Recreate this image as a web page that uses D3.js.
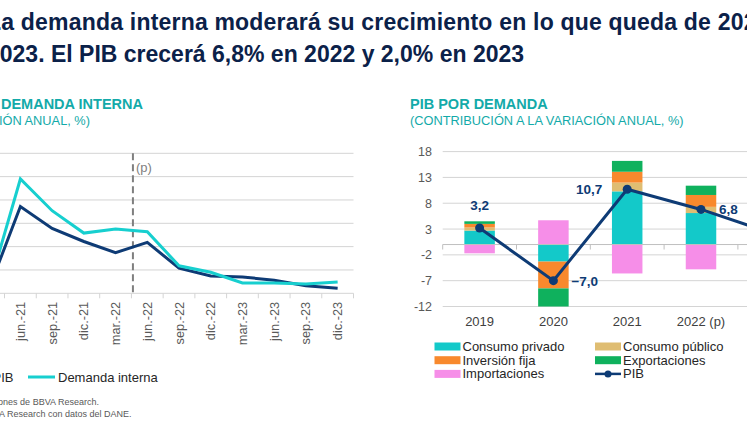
<!DOCTYPE html>
<html>
<head>
<meta charset="utf-8">
<script src="https://cdn.jsdelivr.net/npm/d3@7"></script>
<style>
  body { margin: 0; background: #fff; }
  svg { display: block; font-family: "Liberation Sans", Arial, sans-serif; }
</style>
</head>
<body>
<div id="chart"></div>
<script>
/******************** DATA ********************/
// left panel: quarterly annual variation (%)
var quarters = ["mar.-21", "jun.-21", "sep.-21", "dic.-21", "mar.-22", "jun.-22",
                "sep.-22", "dic.-22", "mar.-23", "jun.-23", "sep.-23", "dic.-23"];
var pibQ     = [0.8, 18.6, 13.9, 11.1, 8.7, 10.9, 5.4, 3.7, 3.5, 2.8, 1.6, 1.1];
var demandaQ = [1.0, 24.5, 17.7, 12.9, 13.8, 13.2, 5.9, 4.5, 2.2, 2.2, 2.0, 2.4];
var leftTicks = [0, 5, 10, 15, 20, 25, 30];
var forecastFrom = "jun.-22";

// right panel: contributions to annual variation (pp)
var years = ["2019", "2020", "2021", "2022 (p)", "2023 (p)"];
var consumoPrivado = [2.7, -3.3, 10.3, 6.1, 1.5];
var consumoPublico = [0.6, 0.0, 1.7, 1.2, 0.3];
var inversionFija  = [0.7, -5.2, 2.1, 2.3, 0.4];
var exportaciones  = [0.5, -3.5, 2.1, 1.8, 0.6];
var importaciones  = [-1.7, 4.7, -5.6, -4.8, -0.8];
var pibAnual       = [3.2, -7.0, 10.7, 6.8, 2.0];
var rightTicks = [-12, -7, -2, 3, 8, 13, 18];

var seriesNames = ["Consumo privado", "Consumo público", "Inversión fija", "Exportaciones", "Importaciones"];

/******************** STYLE ********************/
var navy = "#0e3b75",
    teal = "#17cfcf",
    grid = "#d4d4d4",
    axisTxt = "#595959",
    titleCol = "#0b2149",
    subCol = "#13aaa9";
var seriesColors = ["#13c9c9", "#dfbd72", "#f8892d", "#0fb15d", "#f68ee8"];

var width = 747, height = 427;

var svg = d3.select("#chart").append("svg")
    .attr("width", width)
    .attr("height", height);

// title (the slide is cropped, so text runs off both sides)
var title = svg.append("g")
    .attr("font-weight", "bold")
    .attr("font-size", 23)
    .attr("fill", titleCol);
title.append("text").attr("x", -13).attr("y", 30)
    .attr("letter-spacing", 0.2)
    .text("La demanda interna moderará su crecimiento en lo que queda de 2022 y");
title.append("text").attr("x", -13).attr("y", 62)
    .text("2023. El PIB crecerá 6,8% en 2022 y 2,0% en 2023");

// panel headings
svg.append("text").attr("x", 143).attr("y", 109).attr("text-anchor", "end")
    .attr("font-size", 14.5).attr("font-weight", "bold").attr("fill", subCol)
    .text("PIB Y DEMANDA INTERNA");
svg.append("text").attr("x", 90).attr("y", 124.5).attr("text-anchor", "end")
    .attr("font-size", 12.8).attr("fill", subCol)
    .text("(VARIACIÓN ANUAL, %)");
svg.append("text").attr("x", 410).attr("y", 109)
    .attr("font-size", 14.5).attr("font-weight", "bold").attr("fill", subCol)
    .text("PIB POR DEMANDA");
svg.append("text").attr("x", 410).attr("y", 124.5)
    .attr("font-size", 12.8).attr("fill", subCol)
    .text("(CONTRIBUCIÓN A LA VARIACIÓN ANUAL, %)");

/******************** LEFT PANEL ********************/
var xL = d3.scaleBand().domain(quarters).range([-27.2, 353.5]),
    yL = d3.scaleLinear().domain([0, 30]).range([293.3, 153.3]);
var bwL = xL.bandwidth();

var left = svg.append("g");

// gridlines
left.selectAll("line.grid").data(leftTicks).enter().append("line")
    .attr("x1", -40).attr("x2", xL.range()[1])
    .attr("y1", function(d){ return yL(d); })
    .attr("y2", function(d){ return yL(d); })
    .attr("stroke", grid).attr("stroke-width", 1);

// tick marks between quarters
left.selectAll("line.tick").data(quarters.concat(["end"])).enter().append("line")
    .attr("x1", function(d, i){ return xL.range()[0] + i * bwL; })
    .attr("x2", function(d, i){ return xL.range()[0] + i * bwL; })
    .attr("y1", yL(0)).attr("y2", yL(0) + 5)
    .attr("stroke", grid);

// rotated quarter labels
left.selectAll("text.q").data(quarters).enter().append("text")
    .attr("transform", function(d){ return "translate(" + (xL(d) + bwL / 2 + 4.5) + "," + (yL(0) + 8.5) + ") rotate(-90)"; })
    .attr("text-anchor", "end")
    .attr("font-size", 12.8).attr("fill", axisTxt)
    .text(function(d){ return d; });

// forecast marker
var xF = xL(forecastFrom) + 1.5;
left.append("line")
    .attr("x1", xF).attr("x2", xF)
    .attr("y1", yL(30)).attr("y2", yL(0))
    .attr("stroke", "#7f7f7f").attr("stroke-width", 2)
    .attr("stroke-dasharray", "7,4");
left.append("text").attr("x", xF + 3).attr("y", 172)
    .attr("font-size", 13).attr("fill", "#7f7f7f").text("(p)");

var lineL = d3.line()
    .x(function(d, i){ return xL(quarters[i]) + bwL / 2; })
    .y(function(d){ return yL(d); });

left.append("path").datum(pibQ)
    .attr("d", lineL).attr("fill", "none")
    .attr("stroke", navy).attr("stroke-width", 3);
left.append("path").datum(demandaQ)
    .attr("d", lineL).attr("fill", "none")
    .attr("stroke", teal).attr("stroke-width", 3);

// legend
var legL = svg.append("g").attr("font-size", 13).attr("fill", "#262626");
legL.append("line").attr("x1", -40).attr("x2", -13).attr("y1", 377).attr("y2", 377)
    .attr("stroke", navy).attr("stroke-width", 3);
legL.append("text").attr("x", 13.5).attr("y", 381.5).attr("text-anchor", "end").text("PIB");
legL.append("line").attr("x1", 28).attr("x2", 55).attr("y1", 377).attr("y2", 377)
    .attr("stroke", teal).attr("stroke-width", 3);
legL.append("text").attr("x", 58).attr("y", 381.5).text("Demanda interna");

// notes
var notes = svg.append("g").attr("font-size", 9).attr("fill", "#595959").attr("text-anchor", "end");
notes.append("text").attr("x", 99).attr("y", 405).text("(p): previsiones de BBVA Research.");
notes.append("text").attr("x", 131.5).attr("y", 416.5).text("Fuente: BBVA Research con datos del DANE.");

/******************** RIGHT PANEL ********************/
var xR = d3.scaleBand().domain(years).range([442.7, 442.7 + 73.8 * years.length]),
    yR = d3.scaleLinear().domain([-12, 18]).range([306.5, 151.6]);
var bwR = xR.bandwidth(), barW = 30.5;

var right = svg.append("g");

right.selectAll("line.grid").data(rightTicks).enter().append("line")
    .attr("x1", xR.range()[0]).attr("x2", width + 60)
    .attr("y1", function(d){ return yR(d); })
    .attr("y2", function(d){ return yR(d); })
    .attr("stroke", grid);

right.selectAll("text.ytick").data(rightTicks).enter().append("text")
    .attr("x", 432).attr("y", function(d){ return yR(d) + 4.5; })
    .attr("text-anchor", "end")
    .attr("font-size", 12.5).attr("fill", axisTxt)
    .text(function(d){ return d; });

// stacked contributions
var rows = years.map(function(y, i){
    return {year: y, 0: consumoPrivado[i], 1: consumoPublico[i], 2: inversionFija[i],
            3: exportaciones[i], 4: importaciones[i]};
});
var stack = d3.stack().keys([0, 1, 2, 3, 4]).offset(d3.stackOffsetDiverging);
var layers = stack(rows);

right.selectAll("g.layer").data(layers).enter().append("g")
    .attr("fill", function(d, i){ return seriesColors[i]; })
    .selectAll("rect").data(function(d){ return d; }).enter().append("rect")
    .attr("x", function(d){ return xR(d.data.year) + (bwR - barW) / 2; })
    .attr("width", barW)
    .attr("y", function(d){ return yR(d[1]); })
    .attr("height", function(d){ return Math.abs(yR(d[0]) - yR(d[1])); });

// zero axis with ticks between years
right.append("line")
    .attr("x1", xR.range()[0]).attr("x2", width + 60)
    .attr("y1", yR(0)).attr("y2", yR(0))
    .attr("stroke", "#bfbfbf");
right.selectAll("line.tick").data(years.concat(["end"])).enter().append("line")
    .attr("x1", function(d, i){ return xR.range()[0] + i * bwR; })
    .attr("x2", function(d, i){ return xR.range()[0] + i * bwR; })
    .attr("y1", yR(0)).attr("y2", yR(0) + 5)
    .attr("stroke", "#bfbfbf");

right.selectAll("text.year").data(years).enter().append("text")
    .attr("x", function(d){ return xR(d) + bwR / 2; })
    .attr("y", 326)
    .attr("text-anchor", "middle")
    .attr("font-size", 13).attr("fill", "#404040")
    .text(function(d){ return d; });

// PIB line
var lineR = d3.line()
    .x(function(d, i){ return xR(years[i]) + bwR / 2; })
    .y(function(d){ return yR(d); });
right.append("path").datum(pibAnual)
    .attr("d", lineR).attr("fill", "none")
    .attr("stroke", navy).attr("stroke-width", 3);
right.selectAll("circle").data(pibAnual).enter().append("circle")
    .attr("cx", function(d, i){ return xR(years[i]) + bwR / 2; })
    .attr("cy", function(d){ return yR(d); })
    .attr("r", 4.5).attr("fill", navy);

// value labels: above, right, left, right, right
var labelSide = ["top", "right", "left", "right", "right"];
right.selectAll("text.val").data(pibAnual).enter().append("text")
    .attr("x", function(d, i){
        var cx = xR(years[i]) + bwR / 2;
        return labelSide[i] == "top" ? cx : labelSide[i] == "left" ? cx - 25 : cx + 18;
    })
    .attr("y", function(d, i){ return labelSide[i] == "top" ? yR(d) - 18 : yR(d) + 5; })
    .attr("text-anchor", function(d, i){ return labelSide[i] == "top" ? "middle" : labelSide[i] == "left" ? "end" : "start"; })
    .attr("font-size", 13.5).attr("font-weight", "bold").attr("fill", navy)
    .text(function(d){ return d3.format(".1f")(d).replace(".", ","); });

// legend
var legR = svg.append("g").attr("font-size", 13).attr("fill", "#262626");
var legItems = seriesNames.concat(["PIB"]);
var legPos = [[434.5, 351], [595, 351], [434.5, 364.7], [595, 364.7], [434.5, 378.4], [595, 378.4]];
var legOrder = [0, 1, 2, 3, 4, 5];
legOrder.forEach(function(k, i){
    var p = legPos[i];
    if (k < 5) {
        legR.append("rect").attr("x", p[0]).attr("y", p[1] - 8.5)
            .attr("width", 26).attr("height", 8)
            .attr("fill", seriesColors[k]);
    } else {
        legR.append("line").attr("x1", p[0]).attr("x2", p[0] + 26)
            .attr("y1", p[1] - 4.5).attr("y2", p[1] - 4.5)
            .attr("stroke", navy).attr("stroke-width", 2.5);
        legR.append("circle").attr("cx", p[0] + 13).attr("cy", p[1] - 4.5).attr("r", 3.5).attr("fill", navy);
    }
    legR.append("text").attr("x", p[0] + 28).attr("y", p[1]).text(legItems[k]);
});
</script>
</body>
</html>
